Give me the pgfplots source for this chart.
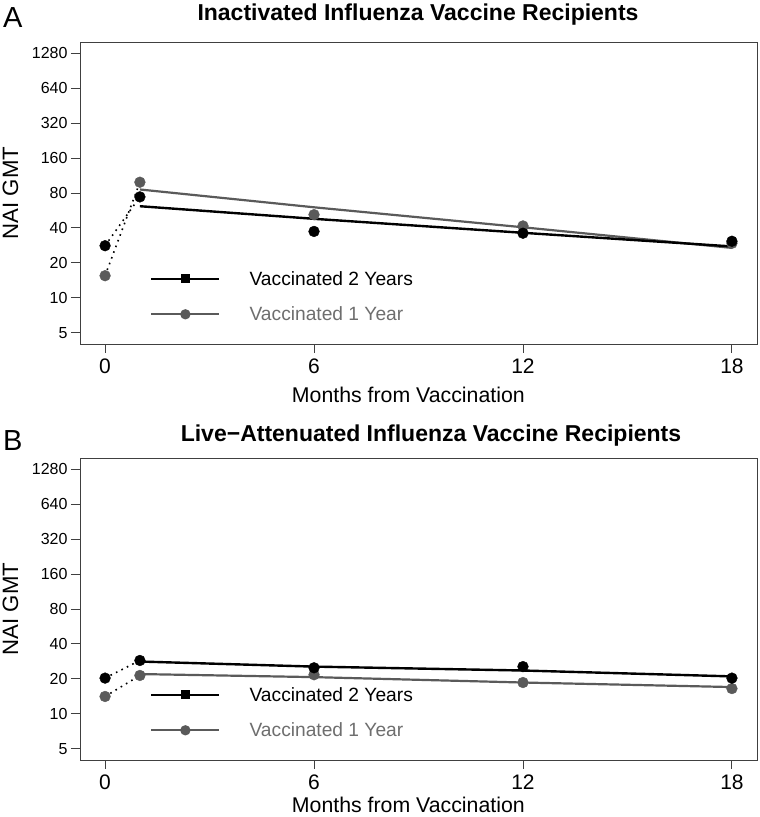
\documentclass[border=0pt]{standalone}
\usepackage{fontspec}
\setmainfont{Liberation Sans}
\usepackage{pgfplots}
\pgfplotsset{compat=1.18}
\definecolor{g1}{HTML}{5A5A5A}
\definecolor{gtext}{HTML}{6E6E6E}
\definecolor{axc}{HTML}{404040}
\tikzset{
 blk/.style={black, line width=2.4pt},
 gry/.style={g1, line width=2.2pt},
 dotl/.style={line width=1.6pt, dash pattern=on 1.6pt off 4.5pt, black},
}
\begin{document}
\begin{tikzpicture}
% Panel A
\begin{axis}[at={(0,0)}, anchor=north west,
  scale only axis, width=677pt, height=302pt,
  xmin=-0.72, xmax=18.72, ymode=log, log basis y=2, ymin=4.0, ymax=1597,
  xtick={0,6,12,18}, ytick={5,10,20,40,80,160,320,640,1280},
  yticklabels={5,10,20,40,80,160,320,640,1280},
  xticklabels={0,6,12,18},
  xtick pos=bottom, ytick pos=left, tick align=outside, major tick length=9pt,
  axis line style={color=axc, line width=0.9pt},
  every tick/.style={axc, line width=0.9pt},
  xticklabel style={font=\fontsize{21}{21}\selectfont, yshift=-2pt},
  yticklabel style={font=\fontsize{16}{16}\selectfont},
  /pgf/number format/assume math mode=true,
  ylabel={NAI GMT}, xlabel={Months from Vaccination},
  label style={font=\fontsize{21.3}{21.3}\selectfont},
  ylabel style={font=\fontsize{22.2}{22.2}\selectfont, at={(axis description cs:-0.0857,0.5)}, anchor=south},
  xlabel style={at={(axis description cs:0.485,-0.167)}, anchor=center},
  legend style={at={(axis description cs:0.1034,0.157)}, anchor=west,
    draw=none, fill=none, inner sep=0pt, row sep=20pt, column sep=29pt,
    font=\fontsize{19.2}{19.2}\selectfont, nodes={inner sep=0pt}},
  legend cell align=left,
  legend image code/.code={\draw[mark repeat=2,mark phase=2,#1] plot coordinates {(0pt,0pt) (34pt,0pt) (68pt,0pt)};},
]
\addlegendimage{black, line width=2.4pt, mark=square*, mark size=3.3pt}
\addlegendentry{Vaccinated 2 Years}
\addlegendimage{g1, line width=2.2pt, mark=*, mark size=4pt}
\addlegendentry[text=gtext]{Vaccinated 1 Year}
\addplot[dotl, forget plot] coordinates {(0,15.5) (1,99)};
\addplot[dotl, forget plot] coordinates {(0,28.1) (1,74)};
\addplot[gry, forget plot] coordinates {(1,85.7) (6,60.2) (12,40.5) (18,26.9)};
\addplot[blk, forget plot] coordinates {(1,61.5) (6,47.9) (12,36.3) (18,27.7)};
\addplot[only marks, mark=*, mark size=5.4pt, g1, forget plot] coordinates {(0,15.5) (1,99) (6,52) (12,41.6) (18,29.5)};
\addplot[only marks, mark=*, mark size=5.4pt, black, forget plot] coordinates {(0,28.1) (1,74) (6,37.3) (12,36) (18,30.7)};
\end{axis}
% Panel B
\begin{axis}[at={(0,-416pt)}, anchor=north west,
  scale only axis, width=677pt, height=302pt,
  xmin=-0.72, xmax=18.72, ymode=log, log basis y=2, ymin=4.0, ymax=1597,
  xtick={0,6,12,18}, ytick={5,10,20,40,80,160,320,640,1280},
  yticklabels={5,10,20,40,80,160,320,640,1280},
  xticklabels={0,6,12,18},
  xtick pos=bottom, ytick pos=left, tick align=outside, major tick length=9pt,
  axis line style={color=axc, line width=0.9pt},
  every tick/.style={axc, line width=0.9pt},
  xticklabel style={font=\fontsize{21}{21}\selectfont, yshift=-2pt},
  yticklabel style={font=\fontsize{16}{16}\selectfont},
  /pgf/number format/assume math mode=true,
  ylabel={NAI GMT}, xlabel={Months from Vaccination},
  label style={font=\fontsize{21.3}{21.3}\selectfont},
  ylabel style={font=\fontsize{22.2}{22.2}\selectfont, at={(axis description cs:-0.0857,0.5)}, anchor=south},
  xlabel style={at={(axis description cs:0.485,-0.147)}, anchor=center},
  legend style={at={(axis description cs:0.1034,0.157)}, anchor=west,
    draw=none, fill=none, inner sep=0pt, row sep=20pt, column sep=29pt,
    font=\fontsize{19.2}{19.2}\selectfont, nodes={inner sep=0pt}},
  legend cell align=left,
  legend image code/.code={\draw[mark repeat=2,mark phase=2,#1] plot coordinates {(0pt,0pt) (34pt,0pt) (68pt,0pt)};},
]
\addlegendimage{black, line width=2.4pt, mark=square*, mark size=3.3pt}
\addlegendentry{Vaccinated 2 Years}
\addlegendimage{g1, line width=2.2pt, mark=*, mark size=4pt}
\addlegendentry[text=gtext]{Vaccinated 1 Year}
\addplot[dotl, forget plot] coordinates {(0,14.1) (1,21.4)};
\addplot[dotl, forget plot] coordinates {(0,20.3) (1,28.8)};
\addplot[gry, forget plot] coordinates {(1,22.0) (6,20.7) (12,18.6) (18,17.0)};
\addplot[blk, forget plot] coordinates {(1,28.2) (6,25.5) (12,23.6) (18,21.0)};
\addplot[only marks, mark=*, mark size=5.4pt, g1, forget plot] coordinates {(0,14.1) (1,21.4) (6,21.7) (12,18.6) (18,16.5)};
\addplot[only marks, mark=*, mark size=5.4pt, black, forget plot] coordinates {(0,20.3) (1,28.8) (6,24.9) (12,25.5) (18,20.3)};
\end{axis}
\node[anchor=base, inner sep=0pt, font=\bfseries\fontsize{23}{23}\selectfont] at (338pt,22pt) {Inactivated Influenza Vaccine Recipients};
\node[anchor=base, inner sep=0pt, font=\bfseries\fontsize{23}{23}\selectfont] at (351pt,-399.7pt) {Live−Attenuated Influenza Vaccine Recipients};
\node[anchor=base west, inner sep=0pt, font=\fontsize{29}{29}\selectfont] at (-77pt,15pt) {A};
\node[anchor=base west, inner sep=0pt, font=\fontsize{29}{29}\selectfont] at (-77pt,-408pt) {B};
\pgfresetboundingbox
\useasboundingbox (-80pt,42pt) rectangle (680pt,-775pt);
\end{tikzpicture}
\end{document}
